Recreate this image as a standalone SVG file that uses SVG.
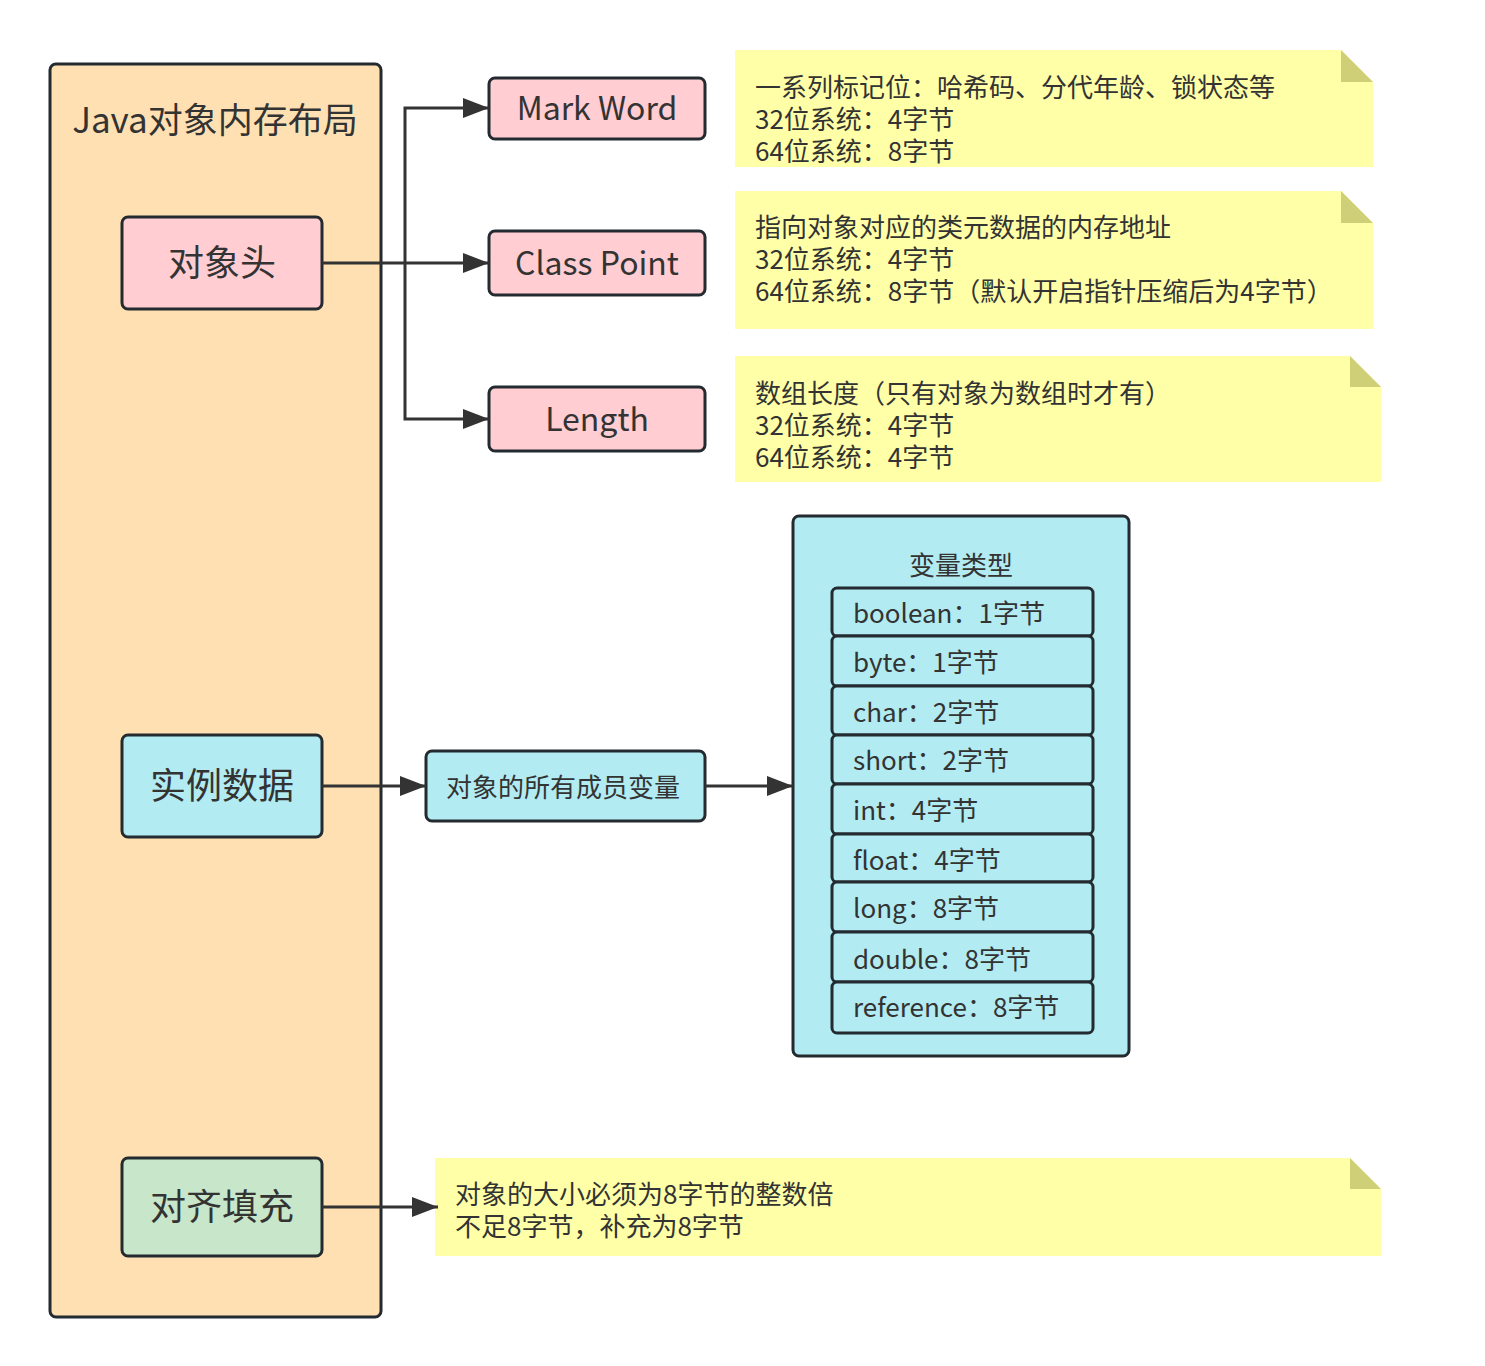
<svg xmlns="http://www.w3.org/2000/svg" width="1485" height="1366" viewBox="0 0 1485 1366">
<style>
text{font-family:"Noto Sans CJK SC","Noto Sans",sans-serif;fill:#333;}
.box{stroke:#232a30;stroke-width:3;}
.pink{fill:#FFCDD2;}
.cyan{fill:#B2EBF2;}
.green{fill:#C8E6C9;}
.peach{fill:#FFE0B2;}
.note{fill:#FFFFA8;}
.fold{fill:#CFCF78;}
.conn{stroke:#333;stroke-width:3;fill:none;}
.t26{font-size:26px;}
.t36{font-size:36px;}
.t32{font-size:32px;}
</style>
<defs>
<marker id="arr" markerUnits="userSpaceOnUse" markerWidth="26" markerHeight="20" refX="26" refY="10" orient="auto">
<path d="M0,0 L26,10 L0,20 z" fill="#333"/>
</marker>
</defs>
<rect width="1485" height="1366" fill="#fff"/>

<g id="layout">
<rect class="box peach" x="50" y="64" width="331" height="1253" rx="6"/>
<text x="215" y="133" font-size="35" text-anchor="middle">Java对象内存布局</text>
</g>

<g id="header">
<rect class="box pink" x="122" y="217" width="200" height="92" rx="6"/>
<text class="t36" x="222" y="276" text-anchor="middle">对象头</text>
</g>
<g id="instance">
<rect class="box cyan" x="122" y="735" width="200" height="102" rx="6"/>
<text class="t36" x="222" y="799" text-anchor="middle">实例数据</text>
</g>
<g id="padding">
<rect class="box green" x="122" y="1158" width="200" height="98" rx="6"/>
<text class="t36" x="222" y="1220" text-anchor="middle">对齐填充</text>
</g>

<g id="markword">
<rect class="box pink" x="489" y="78" width="216" height="61" rx="6"/>
<text class="t32" x="597" y="120" text-anchor="middle">Mark Word</text>
</g>
<g id="classpoint">
<rect class="box pink" x="489" y="231" width="216" height="64" rx="6"/>
<text class="t32" x="597" y="275" text-anchor="middle">Class Point</text>
</g>
<g id="length">
<rect class="box pink" x="489" y="387" width="216" height="64" rx="6"/>
<text class="t32" x="597" y="431" text-anchor="middle">Length</text>
</g>

<g id="note1">
<path class="note" d="M735,50 L1341,50 L1373,82 L1373,167 L735,167 z"/>
<path class="fold" d="M1341,50 L1373,82 L1341,82 z"/>
<text class="t26" x="755" y="97">一系列标记位：哈希码、分代年龄、锁状态等</text>
<text class="t26" x="755" y="129">32位系统：4字节</text>
<text class="t26" x="755" y="161">64位系统：8字节</text>
</g>
<g id="note2">
<path class="note" d="M735,191 L1341,191 L1373,223 L1373,329 L735,329 z"/>
<path class="fold" d="M1341,191 L1373,223 L1341,223 z"/>
<text class="t26" x="755" y="237">指向对象对应的类元数据的内存地址</text>
<text class="t26" x="755" y="269">32位系统：4字节</text>
<text class="t26" x="755" y="301">64位系统：8字节（默认开启指针压缩后为4字节）</text>
</g>
<g id="note3">
<path class="note" d="M735,356 L1350,356 L1381,387 L1381,482 L735,482 z"/>
<path class="fold" d="M1350,356 L1381,387 L1350,387 z"/>
<text class="t26" x="755" y="403">数组长度（只有对象为数组时才有）</text>
<text class="t26" x="755" y="435">32位系统：4字节</text>
<text class="t26" x="755" y="467">64位系统：4字节</text>
</g>
<g id="note4">
<path class="note" d="M435,1158 L1350,1158 L1381,1189 L1381,1256 L435,1256 z"/>
<path class="fold" d="M1350,1158 L1381,1189 L1350,1189 z"/>
<text class="t26" x="455" y="1204">对象的大小必须为8字节的整数倍</text>
<text class="t26" x="455" y="1236">不足8字节，补充为8字节</text>
</g>

<g id="members">
<rect class="box cyan" x="426" y="751" width="279" height="70" rx="6"/>
<text class="t26" x="563" y="797" text-anchor="middle">对象的所有成员变量</text>
</g>

<g id="vartypes">
<rect class="box cyan" x="793" y="516" width="336" height="540" rx="6"/>
<text class="t26" x="961" y="575" text-anchor="middle">变量类型</text>
<g id="row-boolean"><rect class="box cyan" x="832" y="588" width="261" height="48" rx="5"/><text class="t26" x="853" y="623">boolean：1字节</text></g>
<g id="row-byte"><rect class="box cyan" x="832" y="636" width="261" height="50" rx="5"/><text class="t26" x="853" y="672">byte：1字节</text></g>
<g id="row-char"><rect class="box cyan" x="832" y="686" width="261" height="49" rx="5"/><text class="t26" x="853" y="722">char：2字节</text></g>
<g id="row-short"><rect class="box cyan" x="832" y="735" width="261" height="49" rx="5"/><text class="t26" x="853" y="770">short：2字节</text></g>
<g id="row-int"><rect class="box cyan" x="832" y="784" width="261" height="50" rx="5"/><text class="t26" x="853" y="820">int：4字节</text></g>
<g id="row-float"><rect class="box cyan" x="832" y="834" width="261" height="48" rx="5"/><text class="t26" x="853" y="870">float：4字节</text></g>
<g id="row-long"><rect class="box cyan" x="832" y="882" width="261" height="50" rx="5"/><text class="t26" x="853" y="918">long：8字节</text></g>
<g id="row-double"><rect class="box cyan" x="832" y="932" width="261" height="50" rx="5"/><text class="t26" x="853" y="969">double：8字节</text></g>
<g id="row-reference"><rect class="box cyan" x="832" y="982" width="261" height="51" rx="5"/><text class="t26" x="853" y="1017">reference：8字节</text></g>
</g>

<g id="connectors">
<path class="conn" d="M322,263 L489,263" marker-end="url(#arr)"/>
<path class="conn" d="M405,263 L405,108 L489,108" marker-end="url(#arr)"/>
<path class="conn" d="M405,263 L405,419 L489,419" marker-end="url(#arr)"/>
<path class="conn" d="M322,786 L426,786" marker-end="url(#arr)"/>
<path class="conn" d="M705,786 L793,786" marker-end="url(#arr)"/>
<path class="conn" d="M322,1207 L438,1207" marker-end="url(#arr)"/>
</g>
</svg>
